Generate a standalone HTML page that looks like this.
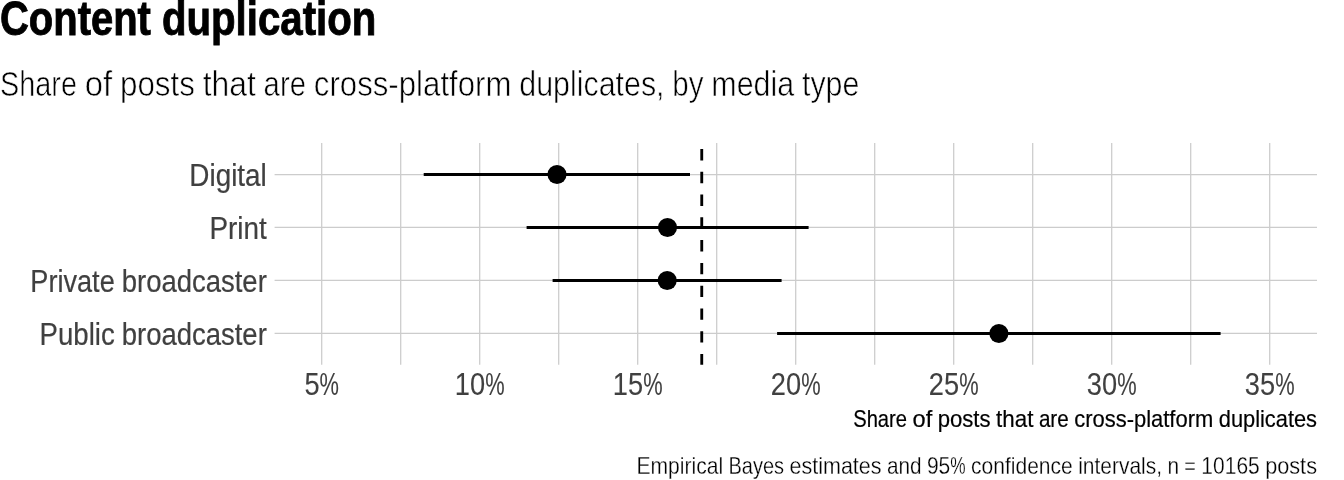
<!DOCTYPE html>
<html lang="en"><head><meta charset="utf-8"><title>Content duplication</title>
<style>
html,body{margin:0;padding:0;background:#fff}
body{width:1344px;height:480px;overflow:hidden}
svg{display:block}
text{font-family:"Liberation Sans",sans-serif;white-space:pre}
</style></head><body>
<svg width="1344" height="480" viewBox="0 0 1344 480">
<rect width="1344" height="480" fill="#fff"/>
<g stroke="#cccccc" stroke-width="1.25" fill="none">
<path d="M321.7 143V364.8M400.7 143V364.8M479.7 143V364.8M558.7 143V364.8M637.7 143V364.8M716.7 143V364.8M795.7 143V364.8M874.7 143V364.8M953.7 143V364.8M1032.7 143V364.8M1111.7 143V364.8M1190.7 143V364.8M1269.7 143V364.8"/>
<path d="M274.6 174.5H1317M274.6 227.45H1317M274.6 280.45H1317M274.6 333.45H1317"/>
</g>
<path d="M701.75 364.8V143" stroke="#000" stroke-width="2.85" stroke-dasharray="11.4 11.38" stroke-dashoffset="0.6" fill="none"/>
<g stroke="#000" stroke-width="3" fill="none">
<path d="M423.7 174.5H690M526.6 227.45H808.6M552.6 280.45H781.6M777.1 333.45H1220.6"/>
</g>
<g fill="#000">
<circle cx="557" cy="174.5" r="9.55"/><circle cx="667.5" cy="227.5" r="9.55"/><circle cx="667.2" cy="280.55" r="9.55"/><circle cx="998.9" cy="333.55" r="9.55"/>
</g>
<text y="34.8" font-size="48.00" font-weight="700" fill="#000" stroke="#000" stroke-width="0.9"><tspan x="0.00" textLength="150.89" lengthAdjust="spacingAndGlyphs">Content</tspan> <tspan x="161.95" textLength="214.36" lengthAdjust="spacingAndGlyphs">duplication</tspan></text>
<text y="96.3" font-size="34.67" font-weight="400" fill="#000" stroke="#fff" stroke-width="0.62"><tspan x="0.00" textLength="76.97" lengthAdjust="spacingAndGlyphs">Share</tspan> <tspan x="84.75" textLength="27.44" lengthAdjust="spacingAndGlyphs">of</tspan> <tspan x="119.97" textLength="74.91" lengthAdjust="spacingAndGlyphs">posts</tspan> <tspan x="202.67" textLength="53.14" lengthAdjust="spacingAndGlyphs">that</tspan> <tspan x="263.61" textLength="42.37" lengthAdjust="spacingAndGlyphs">are</tspan> <tspan x="313.78" textLength="197.74" lengthAdjust="spacingAndGlyphs">cross-platform</tspan> <tspan x="519.30" textLength="145.25" lengthAdjust="spacingAndGlyphs">duplicates,</tspan> <tspan x="672.34" textLength="31.18" lengthAdjust="spacingAndGlyphs">by</tspan> <tspan x="711.31" textLength="82.88" lengthAdjust="spacingAndGlyphs">media</tspan> <tspan x="801.97" textLength="57.33" lengthAdjust="spacingAndGlyphs">type</tspan></text>
<text y="185.7" font-size="30.67" font-weight="400" fill="#404040" stroke="#404040" stroke-width="0.2"><tspan x="189.32" textLength="77.48" lengthAdjust="spacingAndGlyphs">Digital</tspan></text>
<text y="238.9" font-size="30.67" font-weight="400" fill="#404040" stroke="#404040" stroke-width="0.2"><tspan x="209.50" textLength="57.30" lengthAdjust="spacingAndGlyphs">Print</tspan></text>
<text y="291.9" font-size="30.67" font-weight="400" fill="#404040" stroke="#404040" stroke-width="0.2"><tspan x="30.33" textLength="84.39" lengthAdjust="spacingAndGlyphs">Private</tspan> <tspan x="121.74" textLength="145.06" lengthAdjust="spacingAndGlyphs">broadcaster</tspan></text>
<text y="344.9" font-size="30.67" font-weight="400" fill="#404040" stroke="#404040" stroke-width="0.2"><tspan x="39.55" textLength="75.17" lengthAdjust="spacingAndGlyphs">Public</tspan> <tspan x="121.74" textLength="145.06" lengthAdjust="spacingAndGlyphs">broadcaster</tspan></text>
<text y="395.2" font-size="30.67" font-weight="400" fill="#404040" stroke="#404040" stroke-width="0.1"><tspan x="304.43" textLength="15.14" lengthAdjust="spacingAndGlyphs">5</tspan><tspan x="319.55" textLength="19.42" lengthAdjust="spacingAndGlyphs">%</tspan></text>
<text y="395.2" font-size="30.67" font-weight="400" fill="#404040" stroke="#404040" stroke-width="0.1"><tspan x="454.86" textLength="30.29" lengthAdjust="spacingAndGlyphs">10</tspan><tspan x="485.13" textLength="19.41" lengthAdjust="spacingAndGlyphs">%</tspan></text>
<text y="395.2" font-size="30.67" font-weight="400" fill="#404040" stroke="#404040" stroke-width="0.1"><tspan x="612.86" textLength="30.29" lengthAdjust="spacingAndGlyphs">15</tspan><tspan x="643.13" textLength="19.41" lengthAdjust="spacingAndGlyphs">%</tspan></text>
<text y="395.2" font-size="30.67" font-weight="400" fill="#404040" stroke="#404040" stroke-width="0.1"><tspan x="770.86" textLength="30.29" lengthAdjust="spacingAndGlyphs">20</tspan><tspan x="801.13" textLength="19.41" lengthAdjust="spacingAndGlyphs">%</tspan></text>
<text y="395.2" font-size="30.67" font-weight="400" fill="#404040" stroke="#404040" stroke-width="0.1"><tspan x="928.86" textLength="30.29" lengthAdjust="spacingAndGlyphs">25</tspan><tspan x="959.13" textLength="19.41" lengthAdjust="spacingAndGlyphs">%</tspan></text>
<text y="395.2" font-size="30.67" font-weight="400" fill="#404040" stroke="#404040" stroke-width="0.1"><tspan x="1086.86" textLength="30.29" lengthAdjust="spacingAndGlyphs">30</tspan><tspan x="1117.13" textLength="19.41" lengthAdjust="spacingAndGlyphs">%</tspan></text>
<text y="395.2" font-size="30.67" font-weight="400" fill="#404040" stroke="#404040" stroke-width="0.1"><tspan x="1244.86" textLength="30.29" lengthAdjust="spacingAndGlyphs">35</tspan><tspan x="1275.13" textLength="19.41" lengthAdjust="spacingAndGlyphs">%</tspan></text>
<text y="426.6" font-size="24.00" font-weight="400" fill="#000" stroke="#000" stroke-width="0.2"><tspan x="853.17" textLength="53.88" lengthAdjust="spacingAndGlyphs">Share</tspan> <tspan x="912.55" textLength="19.65" lengthAdjust="spacingAndGlyphs">of</tspan> <tspan x="937.69" textLength="52.89" lengthAdjust="spacingAndGlyphs">posts</tspan> <tspan x="996.08" textLength="37.30" lengthAdjust="spacingAndGlyphs">that</tspan> <tspan x="1038.88" textLength="29.84" lengthAdjust="spacingAndGlyphs">are</tspan> <tspan x="1074.22" textLength="139.03" lengthAdjust="spacingAndGlyphs">cross-platform</tspan> <tspan x="1218.75" textLength="98.25" lengthAdjust="spacingAndGlyphs">duplicates</tspan></text>
<text y="474.3" font-size="24.00" font-weight="400" fill="#000" stroke="#fff" stroke-width="0.28"><tspan x="636.48" textLength="86.61" lengthAdjust="spacingAndGlyphs">Empirical</tspan> <tspan x="728.48" textLength="55.61" lengthAdjust="spacingAndGlyphs">Bayes</tspan> <tspan x="789.48" textLength="92.08" lengthAdjust="spacingAndGlyphs">estimates</tspan> <tspan x="886.95" textLength="34.60" lengthAdjust="spacingAndGlyphs">and</tspan> <tspan x="926.94" textLength="23.36" lengthAdjust="spacingAndGlyphs">95</tspan><tspan x="950.28" textLength="15.36" lengthAdjust="spacingAndGlyphs">%</tspan> <tspan x="971.03" textLength="101.75" lengthAdjust="spacingAndGlyphs">confidence</tspan> <tspan x="1078.17" textLength="83.83" lengthAdjust="spacingAndGlyphs">intervals,</tspan> <tspan x="1167.39" textLength="11.58" lengthAdjust="spacingAndGlyphs">n</tspan> <tspan x="1184.36" textLength="11.61" lengthAdjust="spacingAndGlyphs">=</tspan> <tspan x="1201.36" textLength="58.37" lengthAdjust="spacingAndGlyphs">10165</tspan> <tspan x="1265.13" textLength="51.87" lengthAdjust="spacingAndGlyphs">posts</tspan></text>
</svg>
</body></html>
